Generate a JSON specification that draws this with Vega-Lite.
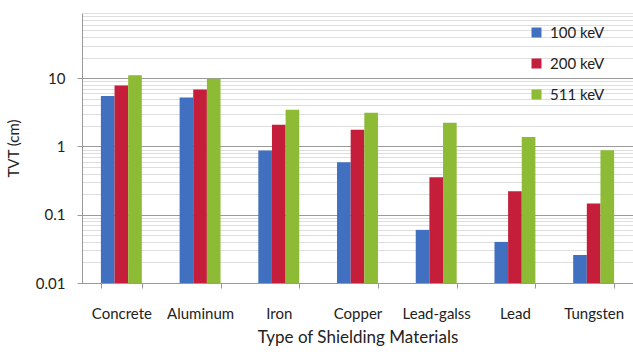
{
  "$schema": "https://vega.github.io/schema/vega-lite/v6.json",
  "width": 551,
  "height": 270,
  "autosize": {"type": "none"},
  "padding": {"left": 82, "top": 13, "right": 0, "bottom": 73},
  "background": "white",
  "config": {
    "view": {"stroke": null},
    "font": "Lato",
    "axis": {"labelFont": "Lato", "titleFont": "Lato", "labelColor": "#222", "titleColor": "#222", "domainColor": "#999", "tickColor": "#999"}
  },
  "data": {
    "values": [
      {"material": "Concrete", "energy": "100 keV", "tvt": 5.5},
      {"material": "Concrete", "energy": "200 keV", "tvt": 7.8},
      {"material": "Concrete", "energy": "511 keV", "tvt": 11.0},
      {"material": "Aluminum", "energy": "100 keV", "tvt": 5.2},
      {"material": "Aluminum", "energy": "200 keV", "tvt": 6.8},
      {"material": "Aluminum", "energy": "511 keV", "tvt": 9.8},
      {"material": "Iron", "energy": "100 keV", "tvt": 0.87},
      {"material": "Iron", "energy": "200 keV", "tvt": 2.08},
      {"material": "Iron", "energy": "511 keV", "tvt": 3.46},
      {"material": "Copper", "energy": "100 keV", "tvt": 0.585},
      {"material": "Copper", "energy": "200 keV", "tvt": 1.76},
      {"material": "Copper", "energy": "511 keV", "tvt": 3.12},
      {"material": "Lead-galss", "energy": "100 keV", "tvt": 0.06},
      {"material": "Lead-galss", "energy": "200 keV", "tvt": 0.353},
      {"material": "Lead-galss", "energy": "511 keV", "tvt": 2.23},
      {"material": "Lead", "energy": "100 keV", "tvt": 0.04},
      {"material": "Lead", "energy": "200 keV", "tvt": 0.22},
      {"material": "Lead", "energy": "511 keV", "tvt": 1.37},
      {"material": "Tungsten", "energy": "100 keV", "tvt": 0.0257},
      {"material": "Tungsten", "energy": "200 keV", "tvt": 0.146},
      {"material": "Tungsten", "energy": "511 keV", "tvt": 0.88}
    ]
  },
  "mark": {"type": "bar"},
  "encoding": {
    "x": {
      "field": "material",
      "type": "nominal",
      "sort": null,
      "scale": {"paddingInner": 0.48, "paddingOuter": 0.24},
      "axis": {
        "title": "Type of Shielding Materials",
        "titleFontSize": 17,
        "titleFontWeight": "normal",
        "titlePadding": 8,
        "labelAngle": 0,
        "labelFontSize": 15,
        "labelPadding": 18,
        "tickBand": "extent",
        "tickSize": 5,
        "grid": false
      }
    },
    "xOffset": {"field": "energy", "type": "nominal", "scale": {"paddingInner": 0}},
    "y": {
      "field": "tvt",
      "type": "quantitative",
      "stack": null,
      "scale": {"type": "log", "domain": [0.01, 90], "nice": false},
      "axis": {
        "title": "TVT (cm)",
        "titleFontSize": 15,
        "titleFontWeight": "normal",
        "titlePadding": 14,
        "labelFontSize": 15,
        "labelPadding": 12,
        "tickSize": 5,
        "values": [0.01, 0.02, 0.03, 0.04, 0.05, 0.06, 0.07, 0.08, 0.09, 0.1, 0.2, 0.3, 0.4, 0.5, 0.6, 0.7, 0.8, 0.9, 1, 2, 3, 4, 5, 6, 7, 8, 9, 10, 20, 30, 40, 50, 60, 70, 80, 90],
        "labelExpr": "indexof([0.01, 0.1, 1, 10], datum.value) >= 0 ? format(datum.value, '~g') : ''",
        "grid": true,
        "gridColor": {"condition": {"test": "indexof([0.01, 0.1, 1, 10], datum.value) >= 0", "value": "#9a9a9a"}, "value": "#dedede"},
        "tickColor": {"condition": {"test": "indexof([0.01, 0.1, 1, 10], datum.value) >= 0", "value": "#999"}, "value": "transparent"},
        "labelOverlap": false
      }
    },
    "color": {
      "field": "energy",
      "type": "nominal",
      "scale": {"domain": ["100 keV", "200 keV", "511 keV"], "range": ["#4270C0", "#C41E3A", "#8DBB36"]},
      "legend": {
        "title": null,
        "orient": "none",
        "legendX": 447,
        "legendY": 12,
        "padding": 0,
        "symbolType": "square",
        "symbolSize": 100,
        "symbolStrokeWidth": 0,
        "labelFontSize": 15,
        "labelColor": "#222",
        "labelOffset": 6,
        "rowPadding": 15
      }
    }
  }
}
